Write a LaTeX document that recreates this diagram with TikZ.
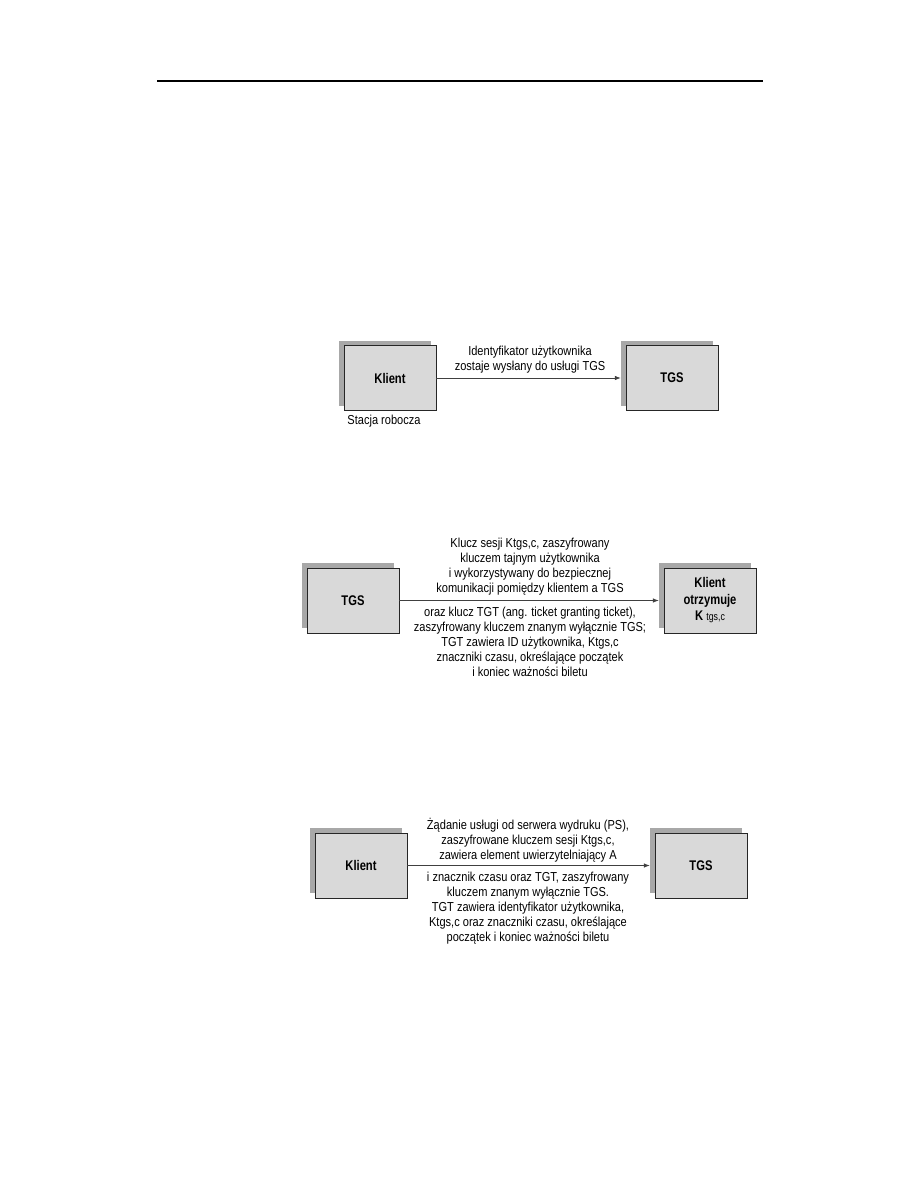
\documentclass[tikz,border=0pt]{standalone}
\usepackage{fontspec}
\setmainfont{Liberation Sans}
\newfontfamily\nar[FakeStretch=0.85]{Liberation Sans}
\newfontfamily\narb[FakeStretch=0.8]{Liberation Sans}
\usetikzlibrary{arrows.meta,calc}
\definecolor{boxfill}{HTML}{D9D9D9}
\definecolor{shadowfill}{HTML}{A8A8A8}
\definecolor{linegray}{HTML}{404040}
\tikzset{
  mainbox/.style={draw=black!85, line width=0.9pt, fill=boxfill, minimum width=92pt, minimum height=65pt, inner sep=0pt, align=center, font=\narb\fontsize{14}{16.5}\selectfont\bfseries},
  shadowbox/.style={fill=shadowfill, minimum width=92pt, minimum height=65pt, inner sep=0pt},
  msg/.style={align=center, inner sep=0pt, font=\nar\fontsize{13}{15}\selectfont},
  flow/.style={draw=linegray, line width=0.7pt, -{Latex[length=6pt,width=4.5pt]}}
}
\begin{document}
\begin{tikzpicture}[x=1pt,y=-1pt]
\useasboundingbox (0,0) rectangle (918,1188);
\fill[white] (0,0) rectangle (918,1188);
% top rule
\draw[line width=2.2pt] (157,81) -- (763,81);

% ---- Section 1
\node[shadowbox] (s1a) at (385,373) {};
\node[mainbox] (k1) at (390,378) {Klient};
\node[shadowbox] (s1b) at (667,373) {};
\node[mainbox] (t1) at (672,378) {TGS};
\draw[flow] (k1.east) -- (k1.east -| s1b.west);
\node[msg] (l1) at (530,360) {Identyfikator użytkownika\\zostaje wysłany do usługi TGS};
\node[msg] (st) at (384,421) {Stacja robocza};

% ---- Section 2
\node[shadowbox] (s2a) at (348,595.5) {};
\node[mainbox] (t2) at (353,600.5) {TGS};
\node[shadowbox] (s2b) at (705,595.5) {};
\node[mainbox] (k2) at (710,600.5) {Klient\\otrzymuje\\K {\mdseries\fontsize{11}{12}\selectfont tgs,c}};
\draw[flow] (t2.east) -- (t2.east -| s2b.west);
\node[msg] (l2a) at (530,567) {Klucz sesji Ktgs,c, zaszyfrowany\\kluczem tajnym użytkownika\\i wykorzystywany do bezpiecznej\\komunikacji pomiędzy klientem a TGS};
\node[msg] (l2b) at (530,642) {oraz klucz TGT (ang. ticket granting ticket),\\zaszyfrowany kluczem znanym wyłącznie TGS;\\TGT zawiera ID użytkownika, Ktgs,c\\znaczniki czasu, określające początek\\i koniec ważności biletu};

% ---- Section 3
\node[shadowbox] (s3a) at (356,860.5) {};
\node[mainbox] (k3) at (361,865.5) {Klient};
\node[shadowbox] (s3b) at (696,860.5) {};
\node[mainbox] (t3) at (701,865.5) {TGS};
\draw[flow] (k3.east) -- (k3.east -| s3b.west);
\node[msg] (l3a) at (528,840) {Żądanie usługi od serwera wydruku (PS),\\zaszyfrowane kluczem sesji Ktgs,c,\\zawiera element uwierzytelniający A};
\node[msg] (l3b) at (528,908) {i znacznik czasu oraz TGT, zaszyfrowany\\kluczem znanym wyłącznie TGS.\\TGT zawiera identyfikator użytkownika,\\Ktgs,c oraz znaczniki czasu, określające\\początek i koniec ważności biletu};
\end{tikzpicture}
\end{document}
